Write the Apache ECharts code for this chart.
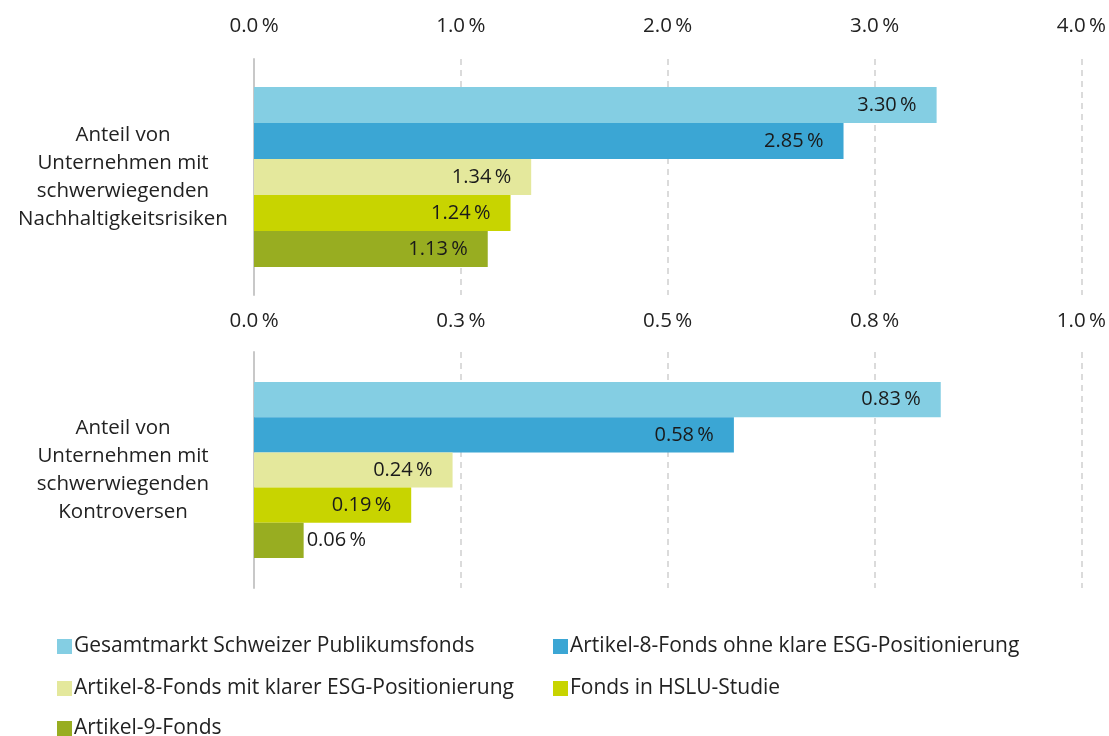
<!DOCTYPE html>
<html>
<head>
<meta charset="utf-8">
<script src="https://cdn.jsdelivr.net/npm/echarts@6/dist/echarts.min.js"></script>
<style>
  html, body { margin: 0; padding: 0; background: #fff; }
  #chart { width: 1109px; height: 736px; }
</style>
</head>
<body>
<div id="chart"></div>
<script>
const seriesNames = [
  "Gesamtmarkt Schweizer Publikumsfonds",
  "Artikel-8-Fonds ohne klare ESG-Positionierung",
  "Artikel-8-Fonds mit klarer ESG-Positionierung",
  "Fonds in HSLU-Studie",
  "Artikel-9-Fonds"
];
const colors = ["#84cee3", "#3ba6d4", "#e4e89c", "#c8d400", "#98ad21"];
const topCategory = ["Anteil von\nUnternehmen mit\nschwerwiegenden\nNachhaltigkeitsrisiken"];
const bottomCategory = ["Anteil von\nUnternehmen mit\nschwerwiegenden\nKontroversen"];
const topValues = [3.30, 2.85, 1.34, 1.24, 1.13];
const bottomValues = [0.83, 0.58, 0.24, 0.19, 0.06];

const font = "Open Sans";
const pct = (v, d) => v.toFixed(d) + "\u2009%";

function xAxisFor(gridIndex, max, interval, margin) {
  return {
    type: "value",
    gridIndex: gridIndex,
    position: "top",
    min: 0,
    max: max,
    interval: interval,
    axisLine: { show: false },
    axisTick: { show: false },
    axisLabel: {
      margin: margin,
      fontFamily: font,
      fontSize: 20.5,
      color: "#222",
      formatter: (v) => pct(v, 1)
    },
    splitLine: { lineStyle: { color: "#d0d0d0", type: [6, 5], width: 1.5 } }
  };
}

function yAxisFor(gridIndex, cats) {
  return {
    type: "category",
    gridIndex: gridIndex,
    data: cats,
    inverse: true,
    axisLine: { show: true, lineStyle: { color: "#c8c8c8", width: 2 } },
    axisTick: { show: false },
    axisLabel: {
      margin: 131,
      align: "center",
      fontFamily: font,
      fontSize: 20.5,
      lineHeight: 28,
      color: "#222"
    }
  };
}

const series = [];
seriesNames.forEach((name, i) => {
  series.push({
    name: name,
    type: "bar",
    xAxisIndex: 0,
    yAxisIndex: 0,
    data: [topValues[i]],
    itemStyle: { color: colors[i] },
    barCategoryGap: "23.7%",
    barGap: "0%",
    label: {
      show: true,
      position: "insideRight",
      distance: 20,
      fontFamily: font,
      fontSize: 20,
      color: "#1a1a1a",
      formatter: (p) => pct(p.value, 2)
    }
  });
});
seriesNames.forEach((name, i) => {
  series.push({
    name: name,
    type: "bar",
    xAxisIndex: 1,
    yAxisIndex: 1,
    data: [bottomValues[i]],
    itemStyle: { color: colors[i] },
    barCategoryGap: "25.5%",
    barGap: "0%",
    label: {
      show: true,
      position: bottomValues[i] < 0.1 ? "right" : "insideRight",
      distance: bottomValues[i] < 0.1 ? 3 : 20,
      fontFamily: font,
      fontSize: 20,
      color: "#1a1a1a",
      formatter: (p) => pct(p.value, 2)
    }
  });
});

const legendPos = [
  [57, 636], [553, 636],
  [57, 678], [553, 678],
  [57, 718]
];
const legends = seriesNames.map((name, i) => ({
  data: [name],
  left: legendPos[i][0],
  top: legendPos[i][1],
  padding: 0,
  icon: "rect",
  itemWidth: 15,
  itemHeight: 15,
  selectedMode: false,
  textStyle: { fontFamily: font, fontSize: 21, color: "#222", padding: [0, 0, 0, -3] }
}));

const chart = echarts.init(document.getElementById("chart"));
chart.setOption({
  animation: false,
  color: colors,
  grid: [
    { left: 254, right: 23, top: 59, height: 236 },
    { left: 254, right: 23, top: 352, height: 236 }
  ],
  xAxis: [xAxisFor(0, 4, 1, 22), xAxisFor(1, 1, 0.25, 20)],
  yAxis: [yAxisFor(0, topCategory), yAxisFor(1, bottomCategory)],
  legend: legends,
  series: series
});
</script>
</body>
</html>
